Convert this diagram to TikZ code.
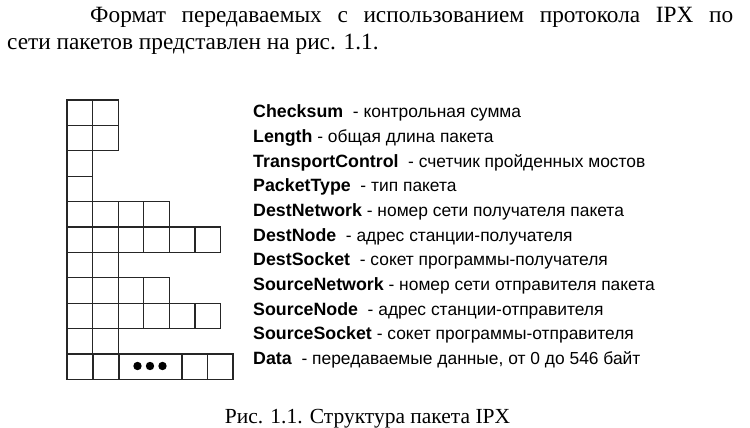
\documentclass[tikz,border=0pt]{standalone}
\usepackage{fontspec}
\setmainfont{Liberation Serif}
\newfontfamily\labelfont{Liberation Sans}
\begin{document}
\begin{tikzpicture}[x=1pt,y=-1pt,
  cell/.style={draw=black!85,line width=1.3pt},
  dotmark/.style={fill=black,draw=none},
  field/.style={anchor=west,inner sep=0pt,font=\labelfont\fontsize{17.4}{20}\selectfont},
  body/.style={inner sep=0pt,font=\fontsize{23.3}{28}\selectfont},
  capt/.style={inner sep=0pt,font=\fontsize{21.5}{26}\selectfont}]
\useasboundingbox[fill=white] (0,0) rectangle (750,428);

% introductory paragraph: first line justified, second line flush left
\node[body,anchor=base west] (intro1) at (90,23)
  {\makebox[643pt][s]{Формат передаваемых с использованием протокола IPX по}};
\node[body,anchor=base west] (intro2) at (7,50)
  {сети пакетов представлен на рис. 1.1.};

% packet layout grid: number of byte cells in each row
\def\cw{25.6}
\def\rh{25.4}
\foreach \n [count=\r from 0] in {2,2,1,1,4,6,2,4,6,2}{
  \foreach \k in {1,...,\n}{
    \draw[cell] ({67+\cw*(\k-1)},{100+\rh*\r}) rectangle ({67+\cw*\k},{100+\rh*(\r+1)});
  }
}
% data row: two cells, a stretched cell with dots, two more cells
\foreach \xa/\xb in {67/93,93/119,119/182,182/207.5,207.5/233}{
  \draw[cell] (\xa,{100+\rh*10}) rectangle (\xb,{100+\rh*11});
}
\foreach \xd in {137.5,150,162.5}{
  \fill[dotmark] (\xd,366) circle (4.2);
}

% field descriptions
\foreach \name/\gap/\txt [count=\i from 0] in {
  Checksum/\ \ /контрольная сумма,
  Length/\ /общая длина пакета,
  TransportControl/\ \ /счетчик пройденных мостов,
  PacketType/\ \ /тип пакета,
  DestNetwork/\ /номер сети получателя пакета,
  DestNode/\ \ /адрес станции-получателя,
  DestSocket/\ \ /сокет программы-получателя,
  SourceNetwork/\ /номер сети отправителя пакета,
  SourceNode/\ \ /адрес станции-отправителя,
  SourceSocket/\ /сокет программы-отправителя,
  Data/\ \ /передаваемые данные{,} от 0 до 546 байт}{
  \node[field] (f\i) at (253,{113+24.7*\i}) {{\fontsize{17.8}{20}\selectfont\textbf{\name}}\gap- \txt};
}

% caption
\node[capt,anchor=base] (caption) at (367.5,423) {Рис. 1.1. Структура пакета IPX};
\end{tikzpicture}
\end{document}
